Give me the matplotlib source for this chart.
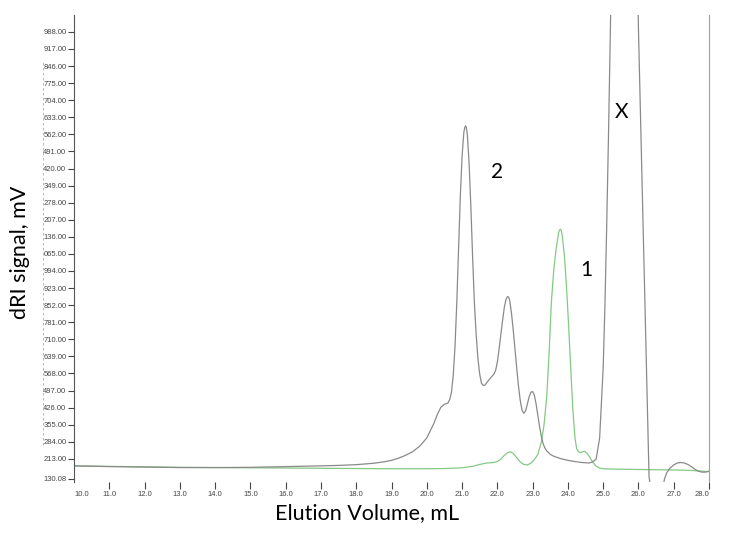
import matplotlib
matplotlib.use('Agg')
import matplotlib.pyplot as plt
from matplotlib.lines import Line2D

# elution volume (mL) / dRI signal (mV)
gray_x = [10.0, 11.0, 12.0, 13.0, 14.0, 15.0, 16.0, 17.0, 17.5, 18.0, 18.5, 18.8,
          19.0, 19.2, 19.4, 19.6, 19.8, 20.0, 20.1, 20.2, 20.3, 20.4, 20.5, 20.6,
          20.65, 20.7, 20.75, 20.8, 20.85, 20.9, 20.95, 21.0, 21.05, 21.08, 21.1,
          21.12, 21.15, 21.2, 21.25, 21.3, 21.35, 21.4, 21.45, 21.5, 21.55, 21.6,
          21.65, 21.7, 21.8, 21.9, 21.95, 22.0, 22.05, 22.1, 22.15, 22.2, 22.25,
          22.28, 22.3, 22.32, 22.35, 22.4, 22.45, 22.5, 22.55, 22.6, 22.65, 22.7,
          22.75, 22.8, 22.85, 22.9, 22.95, 23.0, 23.05, 23.1, 23.15, 23.2, 23.25,
          23.3, 23.35, 23.4, 23.5, 23.6, 23.7, 23.8, 24.0, 24.2, 24.4, 24.6, 24.7,
          24.8, 24.9, 25.0, 25.05, 25.1, 25.15, 25.2, 25.3, 25.45, 25.6, 25.75,
          25.9, 26.0, 26.1, 26.2, 26.3, 26.4, 26.6, 26.74, 26.8, 26.88, 27.0, 27.1,
          27.2, 27.3, 27.4, 27.5, 27.6, 27.7, 27.8, 27.9, 28.0]
gray_y = [184, 181, 179, 177, 177, 178, 181, 184, 186, 189, 195, 201,
          207, 216, 228, 243, 266, 300, 330, 360, 398, 428, 440, 445,
          460, 490, 560, 680, 860, 1080, 1300, 1470, 1570, 1592, 1597,
          1592, 1560, 1440, 1260, 1050, 860, 730, 630, 565, 528, 518,
          520, 530, 548, 565, 580, 615, 670, 730, 790, 845, 878,
          886, 888, 885, 872, 820, 750, 670, 590, 515, 455, 415,
          403, 412, 440, 470, 490, 493, 478, 440, 392, 345, 305,
          275, 258, 246, 232, 224, 219, 214, 207, 202, 198, 196, 200,
          212, 300, 590, 850, 1180, 1550, 1960, 2800, 3600, 3900, 3600,
          2900, 2000, 1380, 760, 140, 40, 30, 130, 155, 172, 188, 196,
          198, 196, 190, 181, 170, 162, 158, 158, 162]

green_x = [10.0, 11.0, 12.0, 13.0, 14.0, 15.0, 16.0, 17.0, 18.0, 19.0, 20.0, 20.5,
           21.0, 21.3, 21.5, 21.7, 21.9, 22.0, 22.1, 22.2, 22.3, 22.37, 22.45,
           22.55, 22.65, 22.75, 22.85, 22.95, 23.05, 23.15, 23.25, 23.32, 23.4,
           23.47, 23.53, 23.6, 23.67, 23.74, 23.77, 23.79, 23.81, 23.84, 23.9,
           23.96, 24.02, 24.08, 24.14, 24.2, 24.25, 24.3, 24.35, 24.42, 24.48,
           24.55, 24.62, 24.7, 24.8, 24.9, 25.0, 25.5, 26.0, 26.5, 27.0, 27.5, 28.0]
green_y = [184, 182, 180, 178, 177, 176, 175, 174, 173, 172, 172, 173,
           176, 182, 190, 196, 198, 202, 212, 228, 240, 242, 236,
           218, 200, 190, 188, 195, 210, 232, 285, 350, 470,
           660, 860, 1000, 1090, 1155, 1165, 1168, 1163, 1140, 1060,
           930, 770, 590, 420, 300, 255, 243, 239, 243, 244,
           235, 220, 200, 183, 175, 172, 170, 169, 168, 167, 165, 160]

ytick_vals = [130.08] + [213 + 71 * k for k in range(26)]
ytick_labels = ['130.08'] + ['%03d.00' % (v % 1000) for v in ytick_vals[1:]]
xtick_vals = [10.0 + k for k in range(19)]
xtick_labels = ['%.1f' % v for v in xtick_vals]

peak_names = ['2', '1', 'X']
peak_x = [22.0, 24.53, 25.52]
peak_y = [1406, 999, 1655]

fig = plt.figure(figsize=(7.37, 5.42), dpi=100)
ax = fig.add_axes([74 / 737, 1 - 482 / 542, 635 / 737, 467 / 542])

ax.plot(green_x, green_y, color='#84c984', lw=0.9)
ax.plot(gray_x, gray_y, color='#8a8a8a', lw=0.9)

ax.set_xlim(10.0, 28.0)
ax.set_ylim(117, 2058)

ax.spines['top'].set_visible(False)
ax.spines['bottom'].set_visible(False)
ax.spines['left'].set_color('#555555')
ax.spines['right'].set_color('#a0a0a0')

ax.set_yticks(ytick_vals)
ax.set_yticklabels(ytick_labels, fontsize=5.5, family='Liberation Sans', color='#444444')
ax.set_xticks(xtick_vals)
ax.set_xticklabels(xtick_labels, fontsize=5.5, family='Liberation Sans', color='#444444')
ax.tick_params(axis='y', length=4.5, width=0.8, color='#444444', pad=1)
ax.tick_params(axis='x', length=5, width=0.8, color='#444444', pad=1.5)
xt = ax.get_xticklabels()
xt[0].set_horizontalalignment('left')
xt[-1].set_horizontalalignment('right')
ax.xaxis.get_major_ticks()[0].tick1line.set_visible(False)

for name, px, py in zip(peak_names, peak_x, peak_y):
    ax.text(px, py, name, fontsize=15, family='Lato', ha='center', va='center')

fig.text(20 / 737, 1 - 252 / 542, 'dRI signal, mV', rotation=90, fontsize=15.5,
         family='Lato', ha='center', va='center')
fig.text(367 / 737, 1 - 513 / 542, 'Elution Volume, mL', fontsize=15.5,
         family='Lato', ha='center', va='center')

# faint cursor line left of the tick labels
fig.add_artist(Line2D([43 / 737, 43 / 737], [1 - 445 / 542, 1 - 62 / 542],
                      color='#8fb0d8', lw=0.6, ls=(0, (3, 3))))

fig.savefig('out.png', dpi=100)
